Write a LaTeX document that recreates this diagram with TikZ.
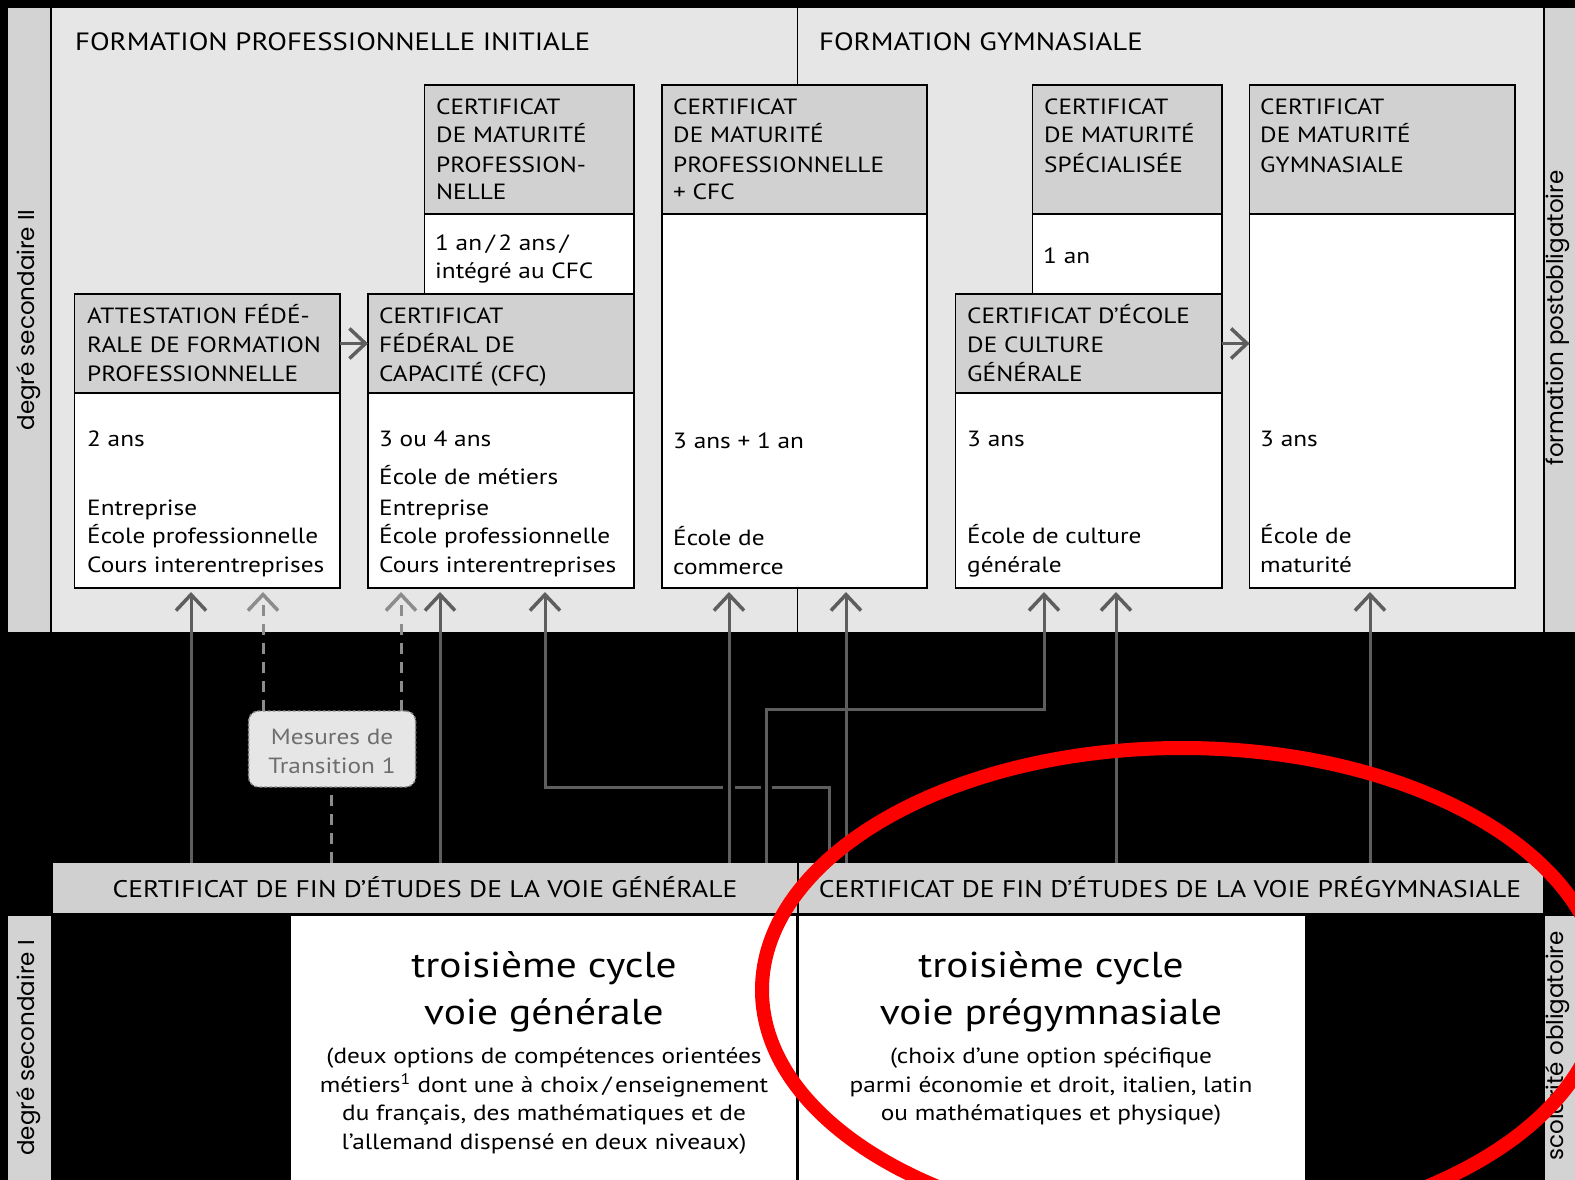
\documentclass[tikz,border=0pt]{standalone}
\usepackage{fontspec}
\setmainfont[FakeStretch=1.15]{PT Sans}
\newfontfamily\rotfont{Poppins}
\usetikzlibrary{arrows.meta}
\definecolor{panelgray}{HTML}{E6E6E6}
\definecolor{hdrgray}{HTML}{D1D1D1}
\definecolor{sidegray}{HTML}{D3D3D3}
\definecolor{certgray}{HTML}{D0D0D0}
\definecolor{conncol}{HTML}{5E5E5E}
\definecolor{dashcol}{HTML}{8C8C8C}
\definecolor{mescol}{HTML}{6E6E6E}
\newcommand\fsz[2]{\fontsize{#1}{#2}\selectfont}
\newcommand\rect[6]{\node[#2, anchor=north west, minimum width={#5-#3}, minimum height={#6-#4}] (#1) at (#3,#4) {};}
\newcommand\tl[4]{\node[txt] (#1) at (#2,#3) {#4};}
\begin{document}
\begin{tikzpicture}[x=1pt,y=-1pt,
  cell/.style={draw=black, line width=1.6pt, inner sep=0pt, outer sep=0pt},
  hdr/.style={cell, fill=hdrgray},
  wht/.style={cell, fill=white},
  flat/.style={inner sep=0pt, outer sep=0pt, draw=none},
  txt/.style={anchor=base west, inner sep=0pt, font=\fsz{22}{26}},
  ctr/.style={anchor=base, inner sep=0pt},
  rot/.style={rotate=90, inner sep=0pt, font=\rotfont\fsz{23}{26}},
  tipA/.style={-{Straight Barb[length=16pt,width=30pt,line width=3.5pt]}},
  conn/.style={draw=conncol, line width=3pt, tipA},
  dconn/.style={draw=dashcol, line width=3pt, dash pattern=on 11pt off 8pt},
  mesbox/.style={draw=dashcol, line width=1.4pt, dash pattern=on 3pt off 2pt, rounded corners=10pt, fill=panelgray, inner sep=0pt, outer sep=0pt}
]
\useasboundingbox (0,0) rectangle (1575,1180);
\clip (0,0) rectangle (1575,1180);
\fill[black] (0,0) rectangle (1575,1180);

% ---------- upper panel ----------
\rect{lb1}{flat, fill=sidegray}{8}{8}{50}{632}
\rect{panel}{flat, fill=panelgray}{52}{8}{1543}{632}
\rect{rb1}{flat, fill=sidegray}{1545}{8}{1590}{632}
\draw[black, line width=1.5pt] (panel.north -| 797.5,0) -- (panel.south -| 797.5,0);

\node[rot] (l1) at (29,320) {degré secondaire II};
\node[rot] (l2) at (1558,318) {formation postobligatoire};

\node[anchor=base west, inner sep=0pt, font=\fsz{25}{30}] (t1) at (75,51) {FORMATION PROFESSIONNELLE INITIALE};
\node[anchor=base west, inner sep=0pt, font=\fsz{25}{30}] (t2) at (819,51) {FORMATION GYMNASIALE};

% boxes
\rect{cmpb}{wht}{424.5}{214}{634}{294}
\rect{cmph}{hdr}{424.5}{85}{634}{214}
\rect{mpcb}{wht}{662}{214}{927}{588}
\rect{mpch}{hdr}{662}{85}{927}{214}
\rect{spcb}{wht}{1032.5}{214}{1221.7}{294}
\rect{spch}{hdr}{1032.5}{85}{1221.7}{214}
\rect{gymb}{wht}{1249.6}{214}{1515}{588}
\rect{gymh}{hdr}{1249.6}{85}{1515}{214}
\rect{afpb}{wht}{74.5}{393}{340}{588}
\rect{afph}{hdr}{74.5}{294}{340}{393}
\rect{cfcb}{wht}{368}{393}{634}{588}
\rect{cfch}{hdr}{368}{294}{634}{393}
\rect{ecgb}{wht}{955.5}{393}{1221.7}{588}
\rect{ecgh}{hdr}{955.5}{294}{1221.7}{393}

% box texts
\tl{a1}{436}{115}{CERTIFICAT}
\tl{a2}{436}{143}{DE MATURITÉ}
\tl{a3}{436}{172}{PROFESSION-}
\tl{a4}{436}{200}{NELLE}
\tl{a5}{435}{250}{1 an\,/\,2 ans\,/}
\tl{a6}{435}{278}{intégré au CFC}

\tl{b1}{673}{115}{CERTIFICAT}
\tl{b2}{673}{143}{DE MATURITÉ}
\tl{b3}{673}{172}{PROFESSIONNELLE}
\tl{b4}{673}{200}{+ CFC}
\tl{b5}{673}{448}{3 ans + 1 an}
\tl{b6}{673}{545}{École de}
\tl{b7}{673}{574}{commerce}

\tl{c1}{1044}{115}{CERTIFICAT}
\tl{c2}{1044}{143}{DE MATURITÉ}
\tl{c3}{1044}{172}{SPÉCIALISÉE}
\tl{c4}{1043}{263}{1 an}

\tl{d1}{1260}{115}{CERTIFICAT}
\tl{d2}{1260}{143}{DE MATURITÉ}
\tl{d3}{1260}{172}{GYMNASIALE}
\tl{d4}{1260}{446}{3 ans}
\tl{d5}{1260}{543}{École de}
\tl{d6}{1260}{572}{maturité}

\tl{e1}{87}{323}{ATTESTATION FÉDÉ-}
\tl{e2}{87}{352}{RALE DE FORMATION}
\tl{e3}{87}{381}{PROFESSIONNELLE}
\tl{e4}{87}{446}{2 ans}
\tl{e5}{87}{515}{Entreprise}
\tl{e6}{87}{543}{École professionnelle}
\tl{e7}{87}{572}{Cours interentreprises}

\tl{f1}{379}{323}{CERTIFICAT}
\tl{f2}{379}{352}{FÉDÉRAL DE}
\tl{f3}{379}{381}{CAPACITÉ (CFC)}
\tl{f4}{379}{446}{3 ou 4 ans}
\tl{f5}{379}{484}{École de métiers}
\tl{f6}{379}{515}{Entreprise}
\tl{f7}{379}{543}{École professionnelle}
\tl{f8}{379}{572}{Cours interentreprises}

\tl{g1}{967}{323}{CERTIFICAT D’ÉCOLE}
\tl{g2}{967}{352}{DE CULTURE}
\tl{g3}{967}{381}{GÉNÉRALE}
\tl{g4}{967}{446}{3 ans}
\tl{g5}{967}{543}{École de culture}
\tl{g6}{967}{572}{générale}

% horizontal arrows
\draw[conn] (afph.east) -- (cfch.west);
\draw[conn] (ecgh.east) -- (gymb.west |- ecgh.east);

% ---------- certificate bars ----------
\rect{cg}{flat, fill=certgray}{53}{863}{797}{913}
\rect{cp}{flat, fill=certgray}{799}{863}{1543}{913}
\node[ctr, font=\fsz{24}{28}] (cgt) at (425,897) {CERTIFICAT DE FIN D’ÉTUDES DE LA VOIE GÉNÉRALE};
\node[ctr, font=\fsz{24}{28}] (cpt) at (1170,897) {CERTIFICAT DE FIN D’ÉTUDES DE LA VOIE PRÉGYMNASIALE};

% ---------- Mesures de transition ----------
\rect{mes}{mesbox}{248.6}{711}{415.6}{787}
\node[ctr, font=\fsz{22}{26}, text=mescol] (m1) at (332,744) {Mesures de};
\node[ctr, font=\fsz{22}{26}, text=mescol] (m2) at (332,773) {Transition 1};

\coordinate (x191) at (191,0);
\coordinate (x263) at (263,0);
\coordinate (x331) at (331.5,0);
\coordinate (x401) at (401,0);
\coordinate (x440) at (440,0);
\coordinate (x729) at (729,0);
\coordinate (x846) at (846,0);
\coordinate (x1116) at (1116,0);
\coordinate (x1370) at (1370,0);
\coordinate (k1) at (829.5,787);
\coordinate (k2) at (545,787);
\coordinate (k3) at (766,709);
\coordinate (k4) at (1044,709);

% dashed connectors
\draw[dconn] (cg.north -| x331) -- (mes.south -| x331);
\draw[dconn, tipA, shorten >=4pt] (mes.north -| x263) -- (afpb.south -| x263);
\draw[dconn, tipA, shorten >=4pt] (mes.north -| x401) -- (cfcb.south -| x401);

% L-connector to CFC with bridges
\draw[conn, shorten >=4pt] (cg.north -| k1) -- (k1) -- (k2) -- (cfcb.south -| k2);
\fill[black] (723,781) rectangle (735,793);
\fill[black] (761,781) rectangle (772,793);

% straight connectors
\draw[conn, shorten >=4pt] (cg.north -| x191) -- (afpb.south -| x191);
\draw[conn, shorten >=4pt] (cg.north -| x440) -- (cfcb.south -| x440);
\draw[conn, shorten >=4pt] (cg.north -| x729) -- (mpcb.south -| x729);
\draw[conn, shorten >=4pt] (cg.north -| k3) -- (k3) -- (k4) -- (ecgb.south -| k4);
\draw[conn, shorten >=4pt] (cp.north -| x846) -- (mpcb.south -| x846);
\draw[conn, shorten >=4pt] (cp.north -| x1116) -- (ecgb.south -| x1116);
\draw[conn, shorten >=4pt] (cp.north -| x1370) -- (gymb.south -| x1370);

% ---------- lower part ----------
\rect{lb2}{flat, fill=sidegray}{8}{916}{51}{1190}
\rect{rb2}{flat, fill=sidegray}{1545}{916}{1590}{1190}
\rect{vg}{flat, fill=white}{291}{916}{797}{1190}
\rect{vp}{flat, fill=white}{798.5}{916}{1305}{1190}
\draw[black, line width=1.5pt] (vg.north east) -- (vg.south east);

\node[rot] (l3) at (29,1048) {degré secondaire I};
\node[rot] (l4) at (1558,1046) {scolarité obligatoire};

\node[ctr, font=\fsz{36}{44}] (h1) at (544,977) {troisième cycle};
\node[ctr, font=\fsz{36}{44}] (h2) at (544,1024) {voie générale};
\node[ctr, font=\fsz{22}{28}] (p1) at (544,1063) {(deux options de compétences orientées};
\node[ctr, font=\fsz{22}{28}] (p2) at (544,1092) {métiers\textsuperscript{1} dont une à choix\,/\,enseignement};
\node[ctr, font=\fsz{22}{28}] (p3) at (544,1120) {du français, des mathématiques et de};
\node[ctr, font=\fsz{22}{28}] (p4) at (544,1149) {l’allemand dispensé en deux niveaux)};

\node[ctr, font=\fsz{36}{44}] (h3) at (1051,977) {troisième cycle};
\node[ctr, font=\fsz{36}{44}] (h4) at (1051,1024) {voie prégymnasiale};
\node[ctr, font=\fsz{22}{28}] (q1) at (1051,1063) {(choix d’une option spécifique};
\node[ctr, font=\fsz{22}{28}] (q2) at (1051,1092) {parmi économie et droit, italien, latin};
\node[ctr, font=\fsz{22}{28}] (q3) at (1051,1120) {ou mathématiques et physique)};

% ---------- red annotation ----------
\draw[red, line width=14pt] (1182,990) ellipse [x radius=420, y radius=242];
\end{tikzpicture}
\end{document}
